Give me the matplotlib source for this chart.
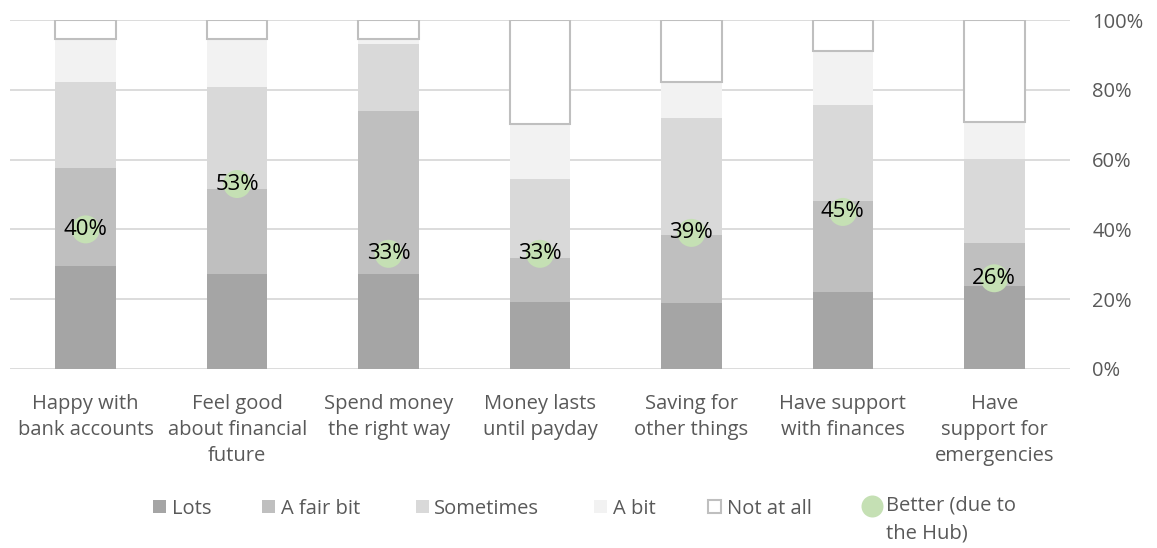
import matplotlib
matplotlib.use("Agg")
import matplotlib.pyplot as plt
from matplotlib.patches import Rectangle
from matplotlib.lines import Line2D
import numpy as np

plt.rcParams['font.family'] = ['Open Sans', 'DejaVu Sans']

categories = ["Happy with\nbank accounts", "Feel good\nabout financial\nfuture",
              "Spend money\nthe right way", "Money lasts\nuntil payday",
              "Saving for\nother things", "Have support\nwith finances",
              "Have\nsupport for\nemergencies"]
lots = [29.6, 27.2, 27.2, 19.3, 19.0, 22.2, 23.9]
fair_bit = [28.1, 24.4, 46.7, 12.6, 19.4, 25.9, 12.2]
sometimes = [24.6, 29.2, 19.2, 22.5, 33.5, 27.5, 24.1]
a_bit = [12.3, 13.8, 1.5, 15.8, 10.4, 15.6, 10.5]
not_at_all = [5.4, 5.4, 5.4, 29.8, 17.7, 8.8, 29.3]
better = [40, 53, 33, 33, 39, 45, 26]
series_names = ["Lots", "A fair bit", "Sometimes", "A bit", "Not at all"]
better_label = "Better (due to\nthe Hub)"
yticks = [0, 20, 40, 60, 80, 100]

colors = ["#a5a5a5", "#bfbfbf", "#d9d9d9", "#f2f2f2", "#ffffff"]
green = "#c5e0b4"
text_grey = "#595959"
FS = 14.5

W, H = 1157, 548
fig = plt.figure(figsize=(W/100, H/100), dpi=100)
ax = fig.add_axes([10/W, 1-369/H, 1060/W, 349/H])

x = np.arange(len(categories))
bw = 0.4
bottom = np.zeros(len(categories))
series = [lots, fair_bit, sometimes, a_bit, not_at_all]
for i, (vals, c) in enumerate(zip(series, colors)):
    vals = np.array(vals)
    if i == 4:
        ax.bar(x, vals, bw, bottom=bottom, color=c, edgecolor="#bfbfbf", linewidth=1.5, zorder=3)
    else:
        ax.bar(x, vals, bw, bottom=bottom, color=c, edgecolor="none", zorder=3)
    bottom += vals

ax.scatter(x, better, s=(28*0.72)**2, color=green, zorder=4, edgecolors="none")
for xi, v in zip(x, better):
    ax.text(xi, v, f"{v}%", ha="center", va="center", fontsize=16, color="black", zorder=5)

ax.set_xlim(-0.5, len(categories) - 0.5)
ax.set_ylim(0, 100)
ax.set_yticks(yticks)
ax.set_yticklabels([f"{t}%" for t in yticks])
ax.yaxis.tick_right()
ax.tick_params(axis="y", length=0, pad=16, labelsize=FS, labelcolor=text_grey)
ax.set_xticks(x)
ax.set_xticklabels(categories, linespacing=1.4)
ax.tick_params(axis="x", length=0, pad=17.8, labelsize=FS, labelcolor=text_grey)
ax.grid(axis="y", color="#d9d9d9", linewidth=1.3, zorder=0)
ax.set_axisbelow(True)
for s in ax.spines.values():
    s.set_visible(False)

# legend, laid out in figure pixels
leg_c = 1 - 506/H
leg_base = 1 - 514/H
sq = 13
items = [(153, 172), (262, 281), (416, 434), (594, 613), (708, 727)]
for (sx, tx), name, c in zip(items, series_names, colors):
    ec = "#bfbfbf" if c == "#ffffff" else "none"
    fig.patches.append(Rectangle((sx/W, leg_c - sq/2/H), sq/W, sq/H, transform=fig.transFigure,
                                 facecolor=c, edgecolor=ec, linewidth=1.5))
    fig.text(tx/W, leg_base, name, ha="left", va="baseline", fontsize=FS, color=text_grey)
fig.add_artist(Line2D([872/W], [leg_c], marker="o", markersize=22*0.72, color=green,
                      markeredgewidth=0, transform=fig.transFigure))
fig.text(886/W, 1 - 495/H, better_label, ha="left", va="top", fontsize=FS,
         color=text_grey, linespacing=1.55)

fig.savefig("out.png", dpi=100)
